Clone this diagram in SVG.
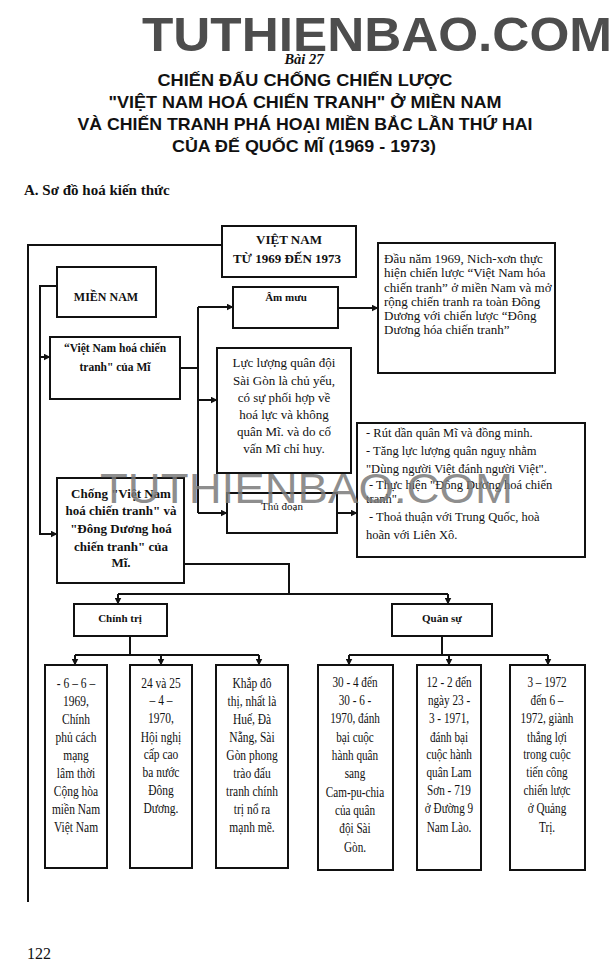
<svg xmlns="http://www.w3.org/2000/svg" width="615" height="980" viewBox="0 0 615 980">
<style>
.bg{fill:#ffffff}
.box{fill:#ffffff;stroke:#111;stroke-width:2}
.ln{fill:none;stroke:#111;stroke-width:2}
.arr{fill:none;stroke:#111;stroke-width:2;marker-end:url(#ah)}
.s{font-family:"Liberation Serif","DejaVu Serif",serif;fill:#111}
.sb{font-family:"Liberation Serif","DejaVu Serif",serif;font-weight:bold;fill:#111}
.t{font-family:"Liberation Sans","DejaVu Sans",sans-serif;font-weight:bold;fill:#111;font-size:17px;text-anchor:middle}
.c{text-anchor:middle}
.f13{font-size:13px}
.f12{font-size:12.5px}
.f14{font-size:14px}
.f11{font-size:11px}
</style>
<defs>
<marker id="ah" markerWidth="7" markerHeight="7" refX="6.5" refY="3.5" orient="auto" markerUnits="userSpaceOnUse">
<path d="M0,0 L7,3.5 L0,7 z" fill="#111"/>
</marker>
</defs>
<rect class="bg" x="0" y="0" width="615" height="980"/>

<g id="header">
<text x="142" y="51" font-family="Liberation Sans, Arial, sans-serif" font-weight="bold" font-size="49" fill="#4d4d4d" textLength="470" lengthAdjust="spacingAndGlyphs">TUTHIENBAO.COM</text>
<text class="sb c" x="304" y="64" font-size="14.5" font-style="italic">Bài 27</text>
<text class="t" x="305" y="86" textLength="295" lengthAdjust="spacingAndGlyphs">CHIẾN ĐẤU CHỐNG CHIẾN LƯỢC</text>
<text class="t" x="305" y="108" textLength="393" lengthAdjust="spacingAndGlyphs">"VIỆT NAM HOÁ CHIẾN TRANH" Ở MIỀN NAM</text>
<text class="t" x="305" y="130" textLength="455" lengthAdjust="spacingAndGlyphs">VÀ CHIẾN TRANH PHÁ HOẠI MIỀN BẮC LẦN THỨ HAI</text>
<text class="t" x="304" y="152" textLength="264" lengthAdjust="spacingAndGlyphs">CỦA ĐẾ QUỐC MĨ (1969 - 1973)</text>
<text class="sb" x="24" y="195" font-size="15">A. Sơ đồ hoá kiến thức</text>
</g>

<g id="connectors">
<path class="ln" d="M222,245 H28 V902"/>
<path class="arr" d="M57,286 H40 V534 H57"/>
<path class="arr" d="M40,357 H50"/>
<path class="ln" d="M180,368 H198"/>
<path class="ln" d="M198,307 V513"/>
<path class="arr" d="M198,307 H233"/>
<path class="arr" d="M198,400 H217"/>
<path class="arr" d="M198,513 H227"/>
<path class="arr" d="M338,308 H378"/>
<path class="arr" d="M337,513 H357"/>
<path class="ln" d="M184,564 H289 V594"/>
<path class="ln" d="M118,594 H448"/>
<path class="arr" d="M118,594 V604"/>
<path class="arr" d="M448,594 V604"/>
<path class="ln" d="M130,636 V655"/>
<path class="ln" d="M75,655 H259"/>
<path class="arr" d="M75,655 V665"/>
<path class="arr" d="M161,655 V665"/>
<path class="arr" d="M259,655 V665"/>
<path class="ln" d="M442,636 V655"/>
<path class="ln" d="M349,655 H548"/>
<path class="arr" d="M349,655 V665"/>
<path class="arr" d="M449,655 V665"/>
<path class="arr" d="M548,655 V665"/>
</g>

<g id="vietnam">
<rect class="box" x="222" y="226" width="134" height="51"/>
<text class="sb f13 c" x="289" y="244">VIỆT NAM</text>
<text class="sb f13 c" x="287" y="263">TỪ 1969 ĐẾN 1973</text>
</g>

<g id="miennam">
<rect class="box" x="57" y="267" width="99" height="50"/>
<text class="sb c" x="106" y="301" font-size="12">MIỀN NAM</text>
</g>

<g id="vnhoa">
<rect class="box" x="50" y="337" width="130" height="62"/>
<text class="sb c" x="115" y="352" font-size="11.5">“Việt Nam hoá chiến</text>
<text class="sb c" x="115" y="371" font-size="11.5">tranh" của Mĩ</text>
</g>

<g id="ammuu">
<rect class="box" x="233" y="287" width="105" height="41"/>
<text class="sb f11 c" x="286" y="301">Âm mưu</text>
</g>

<g id="daunam">
<rect class="box" x="378" y="243" width="177" height="130"/>
<text class="s f13" x="384" y="263">Đầu năm 1969, Nich-xơn thực</text>
<text class="s f13" x="384" y="277">hiện chiến lược “Việt Nam hóa</text>
<text class="s f13" x="384" y="292">chiến tranh” ở miền Nam và mở</text>
<text class="s f13" x="384" y="306">rộng chiến tranh ra toàn Đông</text>
<text class="s f13" x="384" y="320">Dương với chiến lược “Đông</text>
<text class="s f13" x="384" y="334">Dương hóa chiến tranh”</text>
</g>

<g id="lucluong">
<rect class="box" x="217" y="348" width="134" height="125"/>
<text class="s f13 c" x="284" y="367">Lực lượng quân đội</text>
<text class="s f13 c" x="284" y="384.5">Sài Gòn là chủ yếu,</text>
<text class="s f13 c" x="284" y="402">có sự phối hợp về</text>
<text class="s f13 c" x="284" y="419">hoá lực và không</text>
<text class="s f13 c" x="284" y="436">quân Mĩ. và  do cố</text>
<text class="s f13 c" x="284" y="453">vấn Mĩ chỉ huy.</text>
</g>

<g id="thudoan">
<rect class="box" x="227" y="493" width="110" height="40"/>
<text class="s f11 c" x="282" y="510">Thủ đoạn</text>
</g>

<g id="rutdan">
<rect class="box" x="357" y="423" width="228" height="134"/>
<text class="s f12" x="366" y="437">- Rút dần quân Mĩ và đồng minh.</text>
<text class="s f12" x="366" y="455">- Tăng lực lượng quân nguỵ nhằm</text>
<text class="s f12" x="366" y="473">"Dùng người Việt đánh người Việt".</text>
<text class="s f12" x="369" y="489"> - Thực hiện "Đông Dương hoá chiến</text>
<text class="s f12" x="366" y="503">tranh".</text>
<text class="s f12" x="369" y="521"> - Thoả thuận với Trung Quốc, hoà</text>
<text class="s f12" x="366" y="539">hoãn với Liên Xô.</text>
</g>

<g id="chong">
<rect class="box" x="57" y="478" width="127" height="105"/>
<text class="sb f13 c" x="121" y="498">Chống "Việt Nam</text>
<text class="sb f13 c" x="121" y="515">hoá chiến tranh" và</text>
<text class="sb f13 c" x="121" y="533">"Đông Dương hoá</text>
<text class="sb f13 c" x="121" y="551">chiến tranh" của</text>
<text class="sb f13 c" x="121" y="567">Mĩ.</text>
</g>

<g id="chinhtri">
<rect class="box" x="74" y="604" width="93" height="32"/>
<text class="sb f11 c" x="120" y="622">Chính trị</text>
</g>

<g id="quansu">
<rect class="box" x="392" y="604" width="100" height="32"/>
<text class="sb f11 c" x="442" y="622">Quân sự</text>
</g>

<g id="ct1">
<rect class="box" x="45" y="665" width="62" height="203"/>
<g transform="translate(76 0) scale(0.82 1)">
<text class="s f14 c" x="0" y="688">- 6 – 6 –</text>
<text class="s f14 c" x="0" y="706">1969,</text>
<text class="s f14 c" x="0" y="724">Chính</text>
<text class="s f14 c" x="0" y="742">phủ cách</text>
<text class="s f14 c" x="0" y="760">mạng</text>
<text class="s f14 c" x="0" y="778">lâm thời</text>
<text class="s f14 c" x="0" y="796">Cộng hòa</text>
<text class="s f14 c" x="0" y="814">miền Nam</text>
<text class="s f14 c" x="0" y="832">Việt Nam</text>
</g>
</g>

<g id="ct2">
<rect class="box" x="130" y="665" width="62" height="203"/>
<g transform="translate(161 0) scale(0.82 1)">
<text class="s f14 c" x="0" y="688">24 và 25</text>
<text class="s f14 c" x="0" y="705">– 4 –</text>
<text class="s f14 c" x="0" y="723">1970,</text>
<text class="s f14 c" x="0" y="742">Hội nghị</text>
<text class="s f14 c" x="0" y="759">cấp cao</text>
<text class="s f14 c" x="0" y="777">ba nước</text>
<text class="s f14 c" x="0" y="795">Đông</text>
<text class="s f14 c" x="0" y="813">Dương.</text>
</g>
</g>

<g id="ct3">
<rect class="box" x="216" y="665" width="72" height="203"/>
<g transform="translate(252 0) scale(0.82 1)">
<text class="s f14 c" x="0" y="688">Khắp đô</text>
<text class="s f14 c" x="0" y="706">thị, nhất là</text>
<text class="s f14 c" x="0" y="724">Huế, Đà</text>
<text class="s f14 c" x="0" y="742">Nẵng, Sài</text>
<text class="s f14 c" x="0" y="760">Gòn phong</text>
<text class="s f14 c" x="0" y="778">trào đấu</text>
<text class="s f14 c" x="0" y="796">tranh chính</text>
<text class="s f14 c" x="0" y="814">trị nổ ra</text>
<text class="s f14 c" x="0" y="832">mạnh mẽ.</text>
</g>
</g>

<g id="qs1">
<rect class="box" x="318" y="665" width="75" height="205"/>
<g transform="translate(355 0) scale(0.8 1)">
<text class="s f14 c" x="0" y="687">30 - 4 đến</text>
<text class="s f14 c" x="0" y="705">30 - 6 -</text>
<text class="s f14 c" x="0" y="723">1970, đánh</text>
<text class="s f14 c" x="0" y="742">bại cuộc</text>
<text class="s f14 c" x="0" y="760">hành quân</text>
<text class="s f14 c" x="0" y="778">sang</text>
<text class="s f14 c" x="0" y="797">Cam-pu-chia</text>
<text class="s f14 c" x="0" y="815">của quân</text>
<text class="s f14 c" x="0" y="833">đội Sài</text>
<text class="s f14 c" x="0" y="852">Gòn.</text>
</g>
</g>

<g id="qs2">
<rect class="box" x="417" y="665" width="64" height="205"/>
<g transform="translate(449 0) scale(0.8 1)">
<text class="s f14 c" x="0" y="687">12 - 2 đến</text>
<text class="s f14 c" x="0" y="705">ngày 23 -</text>
<text class="s f14 c" x="0" y="723">3 - 1971,</text>
<text class="s f14 c" x="0" y="742">đánh bại</text>
<text class="s f14 c" x="0" y="759">cuộc hành</text>
<text class="s f14 c" x="0" y="777">quân Lam</text>
<text class="s f14 c" x="0" y="795">Sơn - 719</text>
<text class="s f14 c" x="0" y="813">ở Đường 9</text>
<text class="s f14 c" x="0" y="832">Nam Lào.</text>
</g>
</g>

<g id="qs3">
<rect class="box" x="510" y="665" width="75" height="205"/>
<g transform="translate(547 0) scale(0.8 1)">
<text class="s f14 c" x="0" y="687">3 – 1972</text>
<text class="s f14 c" x="0" y="705">đến 6 –</text>
<text class="s f14 c" x="0" y="723">1972, giành</text>
<text class="s f14 c" x="0" y="742">thắng lợi</text>
<text class="s f14 c" x="0" y="759">trong cuộc</text>
<text class="s f14 c" x="0" y="777">tiến công</text>
<text class="s f14 c" x="0" y="795">chiến lược</text>
<text class="s f14 c" x="0" y="813">ở Quảng</text>
<text class="s f14 c" x="0" y="832">Trị.</text>
</g>
</g>

<g id="watermark">
<text x="100" y="503" font-family="Liberation Sans, Arial, sans-serif" font-size="42" fill="#7a7a7a" fill-opacity="0.85" textLength="413" lengthAdjust="spacingAndGlyphs">TUTHIENBAO.COM</text>
</g>

<text class="s" x="27" y="959" font-size="16">122</text>
</svg>
